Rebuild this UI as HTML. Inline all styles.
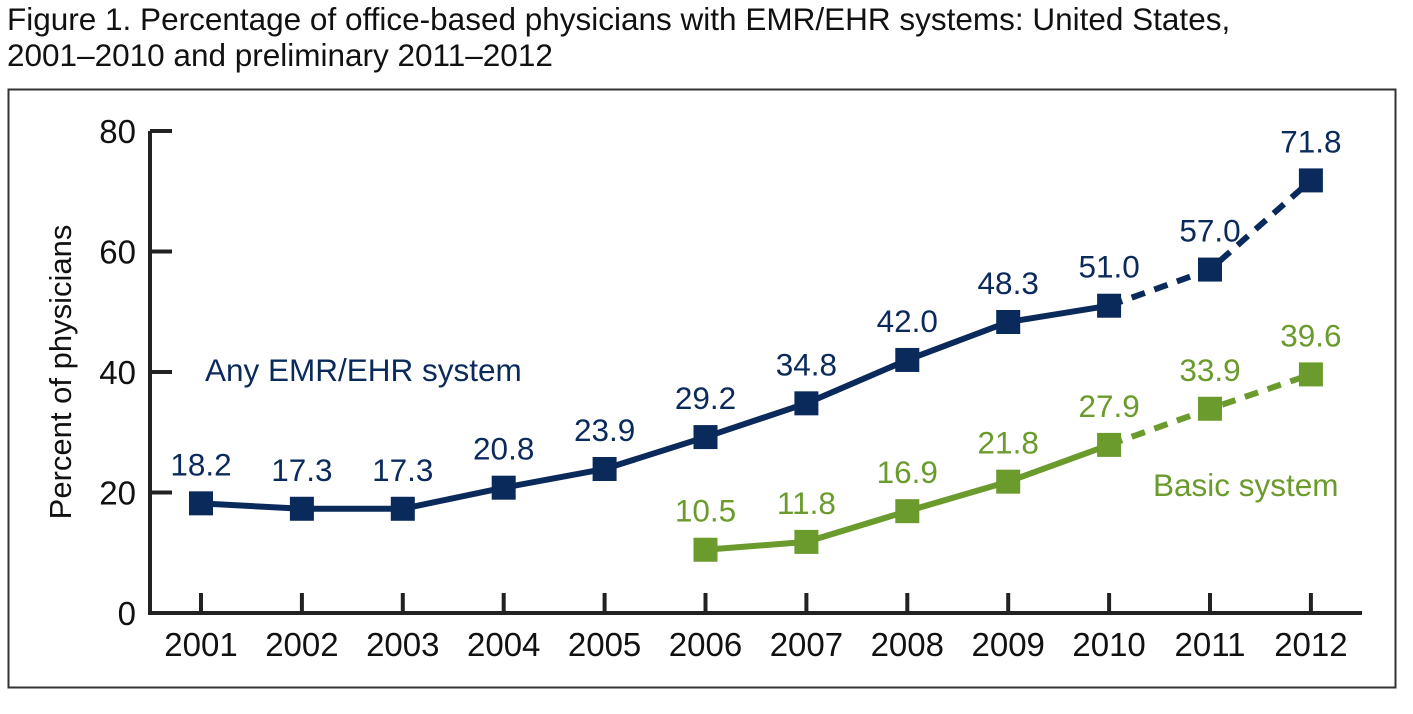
<!DOCTYPE html>
<html><head><meta charset="utf-8"><style>
body{margin:0;background:#fff;width:1413px;height:709px;overflow:hidden;font-family:"Liberation Sans",Arial,sans-serif}
</style></head><body>
<svg width="1413" height="709" xmlns="http://www.w3.org/2000/svg" font-family="Liberation Sans, Arial, sans-serif">
<text x="7" y="30" font-size="31.5" fill="#111">Figure 1. Percentage of office-based physicians with EMR/EHR systems: United States,</text>
<text x="7" y="66" font-size="31.5" fill="#111">2001–2010 and preliminary 2011–2012</text>
<rect x="8.5" y="89.5" width="1387" height="598" fill="none" stroke="#333" stroke-width="2"/>
<g id="axes"></g>
<g id="marks"></g>
<text transform="translate(71,372) rotate(-90)" text-anchor="middle" font-size="31" fill="#111">Percent of physicians</text>
<text x="205" y="381" font-size="31.5" fill="#0b2a5c">Any EMR/EHR system</text>
<text x="1153" y="496" font-size="31.5" fill="#6b9b2d">Basic system</text>
</svg>
<script>
const years=[2001,2002,2003,2004,2005,2006,2007,2008,2009,2010,2011,2012];
const anyEmr=[18.2,17.3,17.3,20.8,23.9,29.2,34.8,42.0,48.3,51.0,57.0,71.8];
const basic=[null,null,null,null,null,10.5,11.8,16.9,21.8,27.9,33.9,39.6];
const yTicks=[0,20,40,60,80];
const NS='http://www.w3.org/2000/svg';
const x=i=>201+i*100.9;
const y=v=>613-v*(482/80);
function mk(tag,attrs,parent){const e=document.createElementNS(NS,tag);for(const k in attrs)e.setAttribute(k,attrs[k]);parent.appendChild(e);return e;}
const ax=document.getElementById('axes'),mg=document.getElementById('marks');
let e=mk('path',{d:`M150,${y(80)} V613 H1362`,fill:'none',stroke:'#222','stroke-width':4},ax);


yTicks.forEach(t=>{
 let l=mk('line',{x1:150,x2:172,y1:y(t),y2:y(t),stroke:'#222','stroke-width':4},ax);
 
 
 let tx=mk('text',{x:136,y:y(t)+12,'text-anchor':'end','font-size':33,fill:'#111'},ax);tx.textContent=t;
 
 
});
years.forEach((yr,i)=>{
 let l=mk('line',{x1:x(i),x2:x(i),y1:613,y2:593,stroke:'#222','stroke-width':4},ax);
 
 
 let tx=mk('text',{x:x(i),y:656,'text-anchor':'middle','font-size':33,fill:'#111'},ax);tx.textContent=yr;
 
 
});
function series(vals,color,name){
 const idx=vals.map((v,i)=>v==null?-1:i).filter(i=>i>=0);
 const solid=idx.filter(i=>years[i]<=2010), dash=idx.filter(i=>years[i]>=2010);
 let p=mk('polyline',{points:solid.map(i=>x(i)+','+y(vals[i])).join(' '),fill:'none',stroke:color,'stroke-width':6},mg);
 
 
 let d=mk('polyline',{points:dash.map(i=>x(i)+','+y(vals[i])).join(' '),fill:'none',stroke:color,'stroke-width':6,'stroke-dasharray':'14 10'},mg);
 
 
 idx.forEach(i=>{
  let r=mk('rect',{x:x(i)-12,y:y(vals[i])-12,width:24,height:24,fill:color},mg);
  
  
  let t=mk('text',{x:x(i),y:y(vals[i])-28,'text-anchor':'middle','font-size':31.5,fill:color},mg);
  t.textContent=vals[i].toFixed(1);
  
  
 });
}
series(anyEmr,'#0b2a5c','any-emr');
series(basic,'#6b9b2d','basic');
</script>
</body></html>
